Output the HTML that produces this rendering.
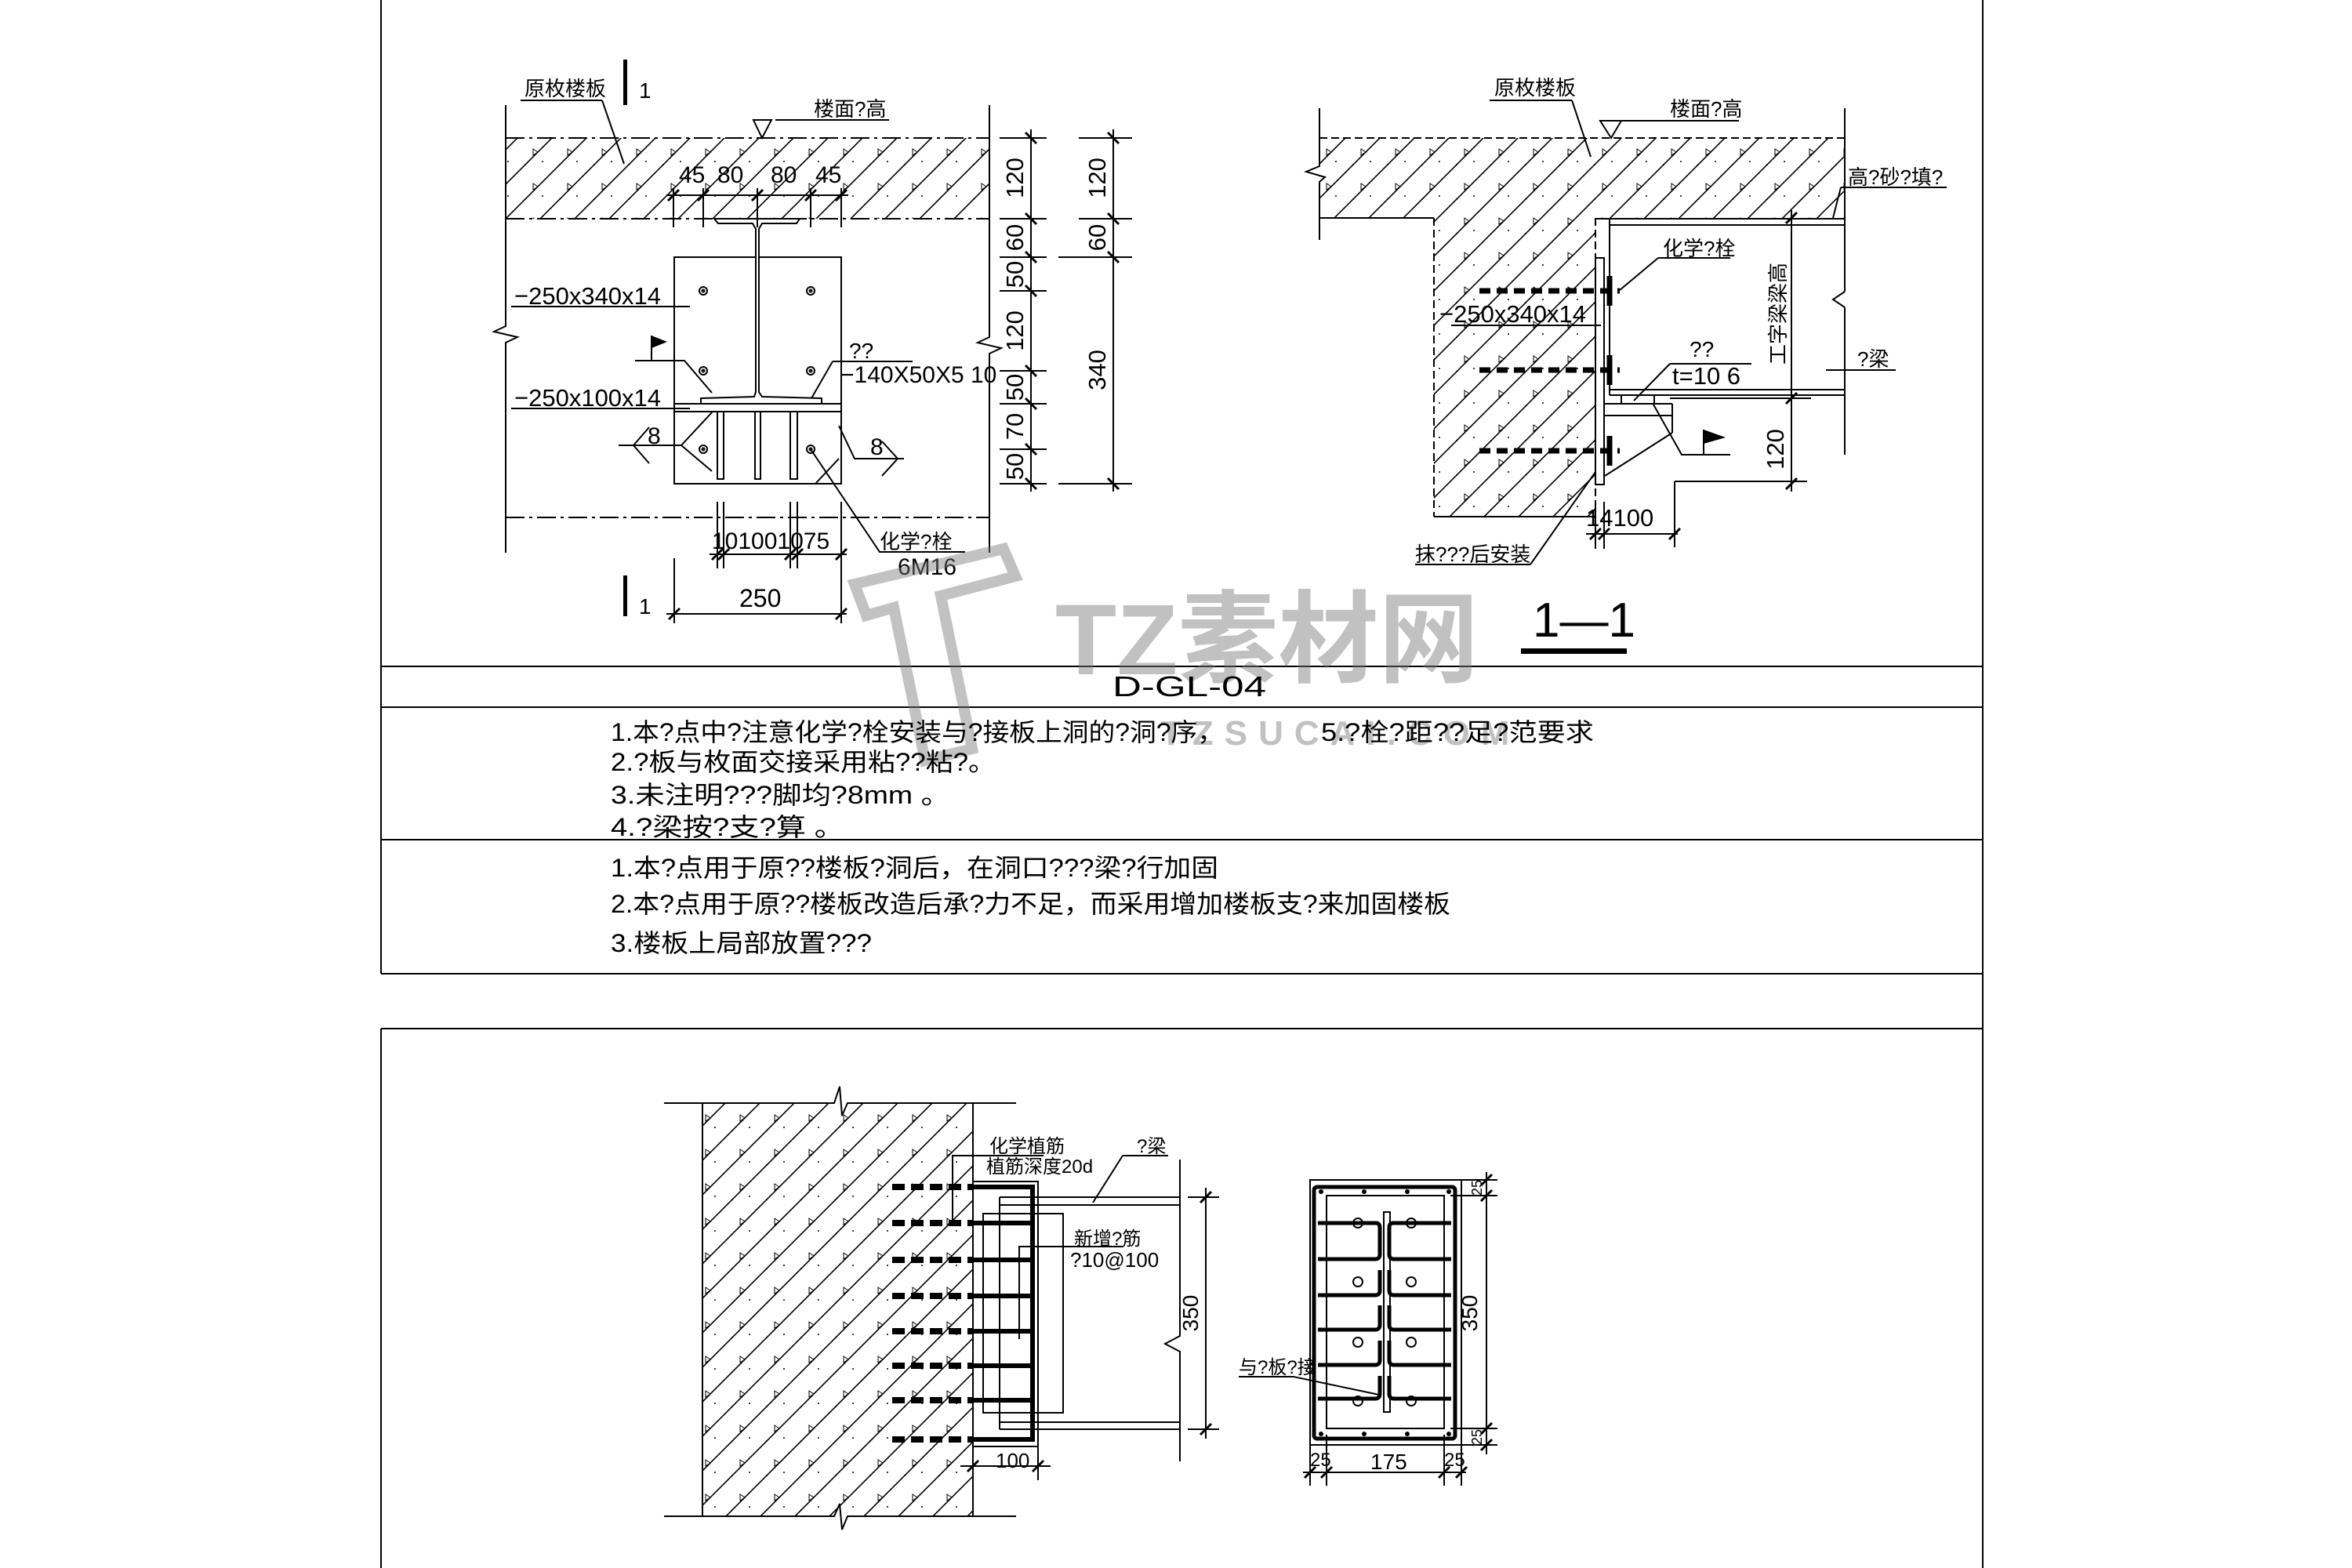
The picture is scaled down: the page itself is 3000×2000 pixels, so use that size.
<!DOCTYPE html>
<html><head><meta charset="utf-8"><style>
html,body{margin:0;padding:0;background:#fff;}
svg{display:block;}
text{font-family:"Liberation Sans","Noto Sans CJK SC",sans-serif;fill:#000;}
</style></head><body>
<svg width="3000" height="2000" viewBox="0 0 3000 2000" xmlns="http://www.w3.org/2000/svg">
<defs>
<pattern id="h" patternUnits="userSpaceOnUse" width="44" height="44">
<line x1="0" y1="44" x2="44" y2="0" stroke="#000" stroke-width="1.6"/>
<line x1="-4" y1="4" x2="4" y2="-4" stroke="#000" stroke-width="1.6"/>
<line x1="40" y1="48" x2="48" y2="40" stroke="#000" stroke-width="1.6"/>
<path d="M20 14 l6 4 l-6 4 z" fill="none" stroke="#000" stroke-width="1"/>
<circle cx="32" cy="30" r="1" fill="#000"/><circle cx="10" cy="34" r="1" fill="#000"/>
</pattern>
</defs>
<rect width="3000" height="2000" fill="#fff"/>
<g stroke="#000" stroke-width="2" fill="none">
<!-- frame -->
<line x1="486" y1="0" x2="486" y2="1242"/><line x1="2529" y1="0" x2="2529" y2="2000"/>
<line x1="486" y1="1312" x2="486" y2="2000"/>
<line x1="486" y1="850" x2="2529" y2="850"/><line x1="486" y1="902" x2="2529" y2="902"/>
<line x1="486" y1="1071" x2="2529" y2="1071"/><line x1="486" y1="1242" x2="2529" y2="1242"/>
<line x1="486" y1="1312" x2="2529" y2="1312"/>
</g>

<!-- ===== LEFT DRAWING ===== -->
<rect x="645" y="176" width="617" height="103" fill="url(#h)"/>
<g stroke="#000" stroke-width="2" fill="none">
<line x1="645" y1="176" x2="1262" y2="176" stroke-dasharray="24 6 4 6"/>
<line x1="645" y1="279" x2="1262" y2="279" stroke-dasharray="24 6 4 6"/>
<line x1="645" y1="660" x2="1262" y2="660" stroke-dasharray="24 6 4 6"/>
<polyline points="645,134 645,416 630,423 660,430 645,437 645,705"/>
<polyline points="1262,134 1262,430 1247,437 1277,444 1262,451 1262,705"/>
<!-- plate -->
<rect x="860" y="328" width="213" height="289" fill="#fff"/>
<!-- I beam -->
<path d="M911 279 L1020 279 L1016 285 L972 285 L968 292 L968 500 L972 506 L1048 508 L1048 515 L894 515 L894 508 L962 506 L964 500 L964 292 L960 285 L916 285 Z" fill="#fff"/>
<rect x="860" y="515" width="213" height="10" fill="#fff"/>
<rect x="915" y="525" width="8" height="86"/><rect x="963" y="525" width="7" height="86"/><rect x="1008" y="525" width="9" height="86"/>
<circle cx="897" cy="371" r="5"/><circle cx="1034" cy="371" r="5"/>
<circle cx="897" cy="473" r="5"/><circle cx="1034" cy="473" r="5"/>
<circle cx="897" cy="573" r="5"/><circle cx="1034" cy="573" r="5"/>
<circle cx="897" cy="371" r="1.5"/><circle cx="1034" cy="371" r="1.5"/><circle cx="897" cy="473" r="1.5"/><circle cx="1034" cy="473" r="1.5"/><circle cx="897" cy="573" r="1.5"/><circle cx="1034" cy="573" r="1.5"/>
<!-- right dims -->
<line x1="1315" y1="165" x2="1315" y2="627"/>
<line x1="1275" y1="176" x2="1335" y2="176"/><line x1="1275" y1="279" x2="1335" y2="279"/>
<line x1="1275" y1="328" x2="1335" y2="328"/><line x1="1275" y1="371" x2="1335" y2="371"/>
<line x1="1275" y1="473" x2="1335" y2="473"/><line x1="1275" y1="515" x2="1335" y2="515"/>
<line x1="1275" y1="573" x2="1335" y2="573"/><line x1="1275" y1="617" x2="1335" y2="617"/>
<line x1="1420" y1="165" x2="1420" y2="627"/>
<line x1="1376" y1="176" x2="1444" y2="176"/><line x1="1376" y1="279" x2="1444" y2="279"/>
<line x1="1350" y1="328" x2="1444" y2="328"/><line x1="1350" y1="617" x2="1444" y2="617"/>
<!-- top dim -->
<line x1="850" y1="249" x2="1082" y2="249"/>
<line x1="859" y1="240" x2="859" y2="290"/><line x1="897" y1="240" x2="897" y2="290"/><line x1="966" y1="240" x2="966" y2="290"/><line x1="1034" y1="240" x2="1034" y2="290"/><line x1="1073" y1="240" x2="1073" y2="290"/>
<!-- bottom dims -->
<line x1="905" y1="707" x2="1080" y2="707"/>
<line x1="915" y1="640" x2="915" y2="725"/><line x1="923" y1="640" x2="923" y2="725"/><line x1="1008" y1="640" x2="1008" y2="725"/><line x1="1017" y1="640" x2="1017" y2="725"/><line x1="1073" y1="640" x2="1073" y2="725"/>
<line x1="850" y1="783" x2="1080" y2="783"/>
<line x1="860" y1="712" x2="860" y2="795"/><line x1="1073" y1="725" x2="1073" y2="795"/>
<!-- leaders -->
<line x1="664" y1="128" x2="768" y2="128"/><line x1="768" y1="128" x2="796" y2="209"/>
<line x1="989" y1="153" x2="1134" y2="153"/><path d="M961 153 L984 153 L972 176 Z"/>
<line x1="652" y1="391" x2="880" y2="391"/>
<line x1="652" y1="521" x2="880" y2="521"/>
<line x1="1062" y1="461" x2="1164" y2="461"/><line x1="1062" y1="461" x2="1035" y2="508"/>
<polyline points="810,460 873,460 908,501"/><line x1="831" y1="428" x2="831" y2="460"/>
<polyline points="789,568 869,568 909,525"/><line x1="869" y1="568" x2="908" y2="601"/>
<path d="M828 545 L808 568 L828 591"/>
<polyline points="1153,585 1090,585 1070,543"/><line x1="1070" y1="585" x2="1040" y2="617"/>
<path d="M1125 563 L1145 585 L1125 607"/>
<polyline points="1231,704 1122,704 1034,573"/>
</g>
<path d="M831 428 L851 436 L831 444 Z" fill="#000"/>
<g stroke="#000" stroke-width="3">
<line x1="1308" y1="169" x2="1322" y2="183"/><line x1="1308" y1="272" x2="1322" y2="286"/><line x1="1308" y1="321" x2="1322" y2="335"/><line x1="1308" y1="364" x2="1322" y2="378"/><line x1="1308" y1="466" x2="1322" y2="480"/><line x1="1308" y1="508" x2="1322" y2="522"/><line x1="1308" y1="566" x2="1322" y2="580"/><line x1="1308" y1="610" x2="1322" y2="624"/>
<line x1="1413" y1="169" x2="1427" y2="183"/><line x1="1413" y1="272" x2="1427" y2="286"/><line x1="1413" y1="321" x2="1427" y2="335"/><line x1="1413" y1="610" x2="1427" y2="624"/>
<line x1="852" y1="256" x2="866" y2="242"/><line x1="890" y1="256" x2="904" y2="242"/><line x1="959" y1="256" x2="973" y2="242"/><line x1="1027" y1="256" x2="1041" y2="242"/><line x1="1066" y1="256" x2="1080" y2="242"/>
<line x1="908" y1="714" x2="922" y2="700"/><line x1="916" y1="714" x2="930" y2="700"/><line x1="1001" y1="714" x2="1015" y2="700"/><line x1="1010" y1="714" x2="1024" y2="700"/><line x1="1066" y1="714" x2="1080" y2="700"/>
<line x1="853" y1="790" x2="867" y2="776"/><line x1="1066" y1="790" x2="1080" y2="776"/>
</g>
<rect x="795" y="76" width="5" height="58" fill="#000"/><rect x="795" y="734" width="5" height="52" fill="#000"/>
<g font-size="28">
<text x="815" y="125">1</text><text x="815" y="783">1</text>
<text x="669" y="122" font-size="26">原枚楼板</text>
<text x="1038" y="148" font-size="26">楼面?高</text>
<text x="656" y="388" font-size="31">−250x340x14</text>
<text x="656" y="518" font-size="31">−250x100x14</text>
<text x="1083" y="457" font-size="28">??</text>
<text x="1072" y="488" font-size="30">−140X50X5 10</text>
<text x="826" y="566" font-size="30">8</text><text x="1110" y="580" font-size="30">8</text>
<text x="1122" y="700" font-size="26">化学?栓</text>
<text x="1145" y="733" font-size="30">6M16</text>
<text x="908" y="700" font-size="30">101001075</text>
<text x="943" y="774" font-size="32">250</text>
<text x="866" y="233" font-size="30">45</text><text x="915" y="233" font-size="30">80</text><text x="983" y="233" font-size="30">80</text><text x="1040" y="233" font-size="30">45</text>
</g>
<g font-size="31" text-anchor="middle">
<text transform="translate(1305,227) rotate(-90)">120</text>
<text transform="translate(1305,303) rotate(-90)">60</text>
<text transform="translate(1305,350) rotate(-90)">50</text>
<text transform="translate(1305,422) rotate(-90)">120</text>
<text transform="translate(1305,494) rotate(-90)">50</text>
<text transform="translate(1305,544) rotate(-90)">70</text>
<text transform="translate(1305,595) rotate(-90)">50</text>
<text transform="translate(1410,227) rotate(-90)">120</text>
<text transform="translate(1410,303) rotate(-90)">60</text>
<text transform="translate(1410,472) rotate(-90)">340</text>
</g>

<!-- ===== RIGHT DRAWING ===== -->
<path d="M1683 176 L2353 176 L2353 278 L2035 278 L2035 659 L1829 659 L1829 278 L1683 278 Z" fill="url(#h)"/>
<g stroke="#000" stroke-width="2" fill="none">
<line x1="1683" y1="176" x2="2353" y2="176" stroke-dasharray="10 5"/>
<polyline points="1683,278 1829,278"/><line x1="1829" y1="278" x2="1829" y2="659" stroke-dasharray="10 5"/>
<line x1="1829" y1="659" x2="2035" y2="659"/><line x1="2035" y1="278" x2="2035" y2="659" stroke-dasharray="10 5"/>
<polyline points="1683,138 1683,212 1666,219 1690,226 1683,232 1683,306"/>
<line x1="2353" y1="138" x2="2353" y2="372"/><polyline points="2353,372 2338,382 2353,392"/><line x1="2353" y1="392" x2="2353" y2="580"/>
<!-- beam -->
<line x1="2035" y1="279" x2="2353" y2="279"/><line x1="2053" y1="287" x2="2353" y2="287"/>
<line x1="2053" y1="497" x2="2353" y2="497"/><line x1="2053" y1="504" x2="2353" y2="504"/>
<line x1="2053" y1="279" x2="2053" y2="504"/>
<rect x="2035" y="329" width="11" height="289" fill="#fff"/>
<!-- seat -->
<line x1="2046" y1="515" x2="2133" y2="515"/><line x1="2046" y1="530" x2="2133" y2="530"/>
<line x1="2133" y1="515" x2="2133" y2="552"/><line x1="2133" y1="552" x2="2047" y2="607"/>
<line x1="2068" y1="504" x2="2068" y2="515"/><line x1="2110" y1="504" x2="2110" y2="515"/>
<line x1="2130" y1="508" x2="2310" y2="508"/>
<line x1="2136" y1="614" x2="2305" y2="614"/><line x1="2136" y1="614" x2="2136" y2="698"/>
<polyline points="2109,516 2145,580 2207,580"/><line x1="2173" y1="548" x2="2173" y2="580"/>
<line x1="2285" y1="268" x2="2285" y2="627"/>
<!-- dim 14100 -->
<line x1="2023" y1="681" x2="2140" y2="681"/><line x1="2035" y1="640" x2="2035" y2="700"/><line x1="2046" y1="640" x2="2046" y2="700"/>
<!-- leaders -->
<line x1="1900" y1="128" x2="2005" y2="128"/><line x1="2005" y1="128" x2="2029" y2="200"/>
<line x1="2041" y1="154" x2="2218" y2="154"/><path d="M2041 154 L2068 154 L2055 176 Z"/>
<line x1="2348" y1="239" x2="2483" y2="239"/><line x1="2348" y1="239" x2="2338" y2="278"/>
<line x1="2115" y1="329" x2="2207" y2="329"/><line x1="2115" y1="329" x2="2066" y2="370"/>
<line x1="1851" y1="415" x2="2042" y2="415"/>
<line x1="2130" y1="464" x2="2234" y2="464"/><line x1="2130" y1="464" x2="2084" y2="511"/>
<line x1="2329" y1="472" x2="2418" y2="472"/>
<line x1="1805" y1="720" x2="1952" y2="720"/><line x1="1952" y1="720" x2="2035" y2="602"/>
</g>
<path d="M2173 548 L2201 558 L2173 566 Z" fill="#000"/>
<g stroke="#000" stroke-width="7" stroke-dasharray="14 8">
<line x1="1887" y1="371" x2="2066" y2="371"/><line x1="1887" y1="472" x2="2066" y2="472"/><line x1="1887" y1="575" x2="2066" y2="575"/>
</g>
<g stroke="#000" stroke-width="7">
<line x1="2053" y1="352" x2="2053" y2="390"/><line x1="2053" y1="453" x2="2053" y2="491"/><line x1="2053" y1="556" x2="2053" y2="594"/>
</g>
<g stroke="#000" stroke-width="3">
<line x1="2278" y1="285" x2="2292" y2="271"/><line x1="2278" y1="515" x2="2292" y2="501"/><line x1="2278" y1="624" x2="2292" y2="610"/>
<line x1="2028" y1="688" x2="2042" y2="674"/><line x1="2039" y1="688" x2="2053" y2="674"/><line x1="2129" y1="688" x2="2143" y2="674"/>
</g>
<g font-size="26">
<text x="1906" y="121">原枚楼板</text>
<text x="2130" y="148">楼面?高</text>
<text x="2357" y="235">高?砂?填?</text>
<text x="2121" y="326">化学?栓</text>
<text x="1836" y="411" font-size="31">−250x340x14</text>
<text x="2155" y="455" font-size="28">??</text>
<text x="2133" y="490" font-size="31">t=10 6</text>
<text x="2369" y="467">?梁</text>
<text x="1805" y="716">抹???后安装</text>
<text x="2023" y="671" font-size="31">14100</text>
<text transform="translate(2275,573) rotate(-90)" font-size="31" text-anchor="middle">120</text>
<text transform="translate(2277,400) rotate(-90)" font-size="26" text-anchor="middle">工字梁梁高</text>
<text x="1955" y="812" font-size="62">1—1</text>
</g>
<rect x="1940" y="827" width="135" height="7" fill="#000"/>

<!-- watermark -->
<g opacity="0.45">
<path d="M1090 745 L1280 700 L1295 735 L1200 760 L1240 955 L1180 970 L1140 775 L1105 785 Z" fill="none" stroke="#777" stroke-width="14"/>
<text x="1346" y="860" font-size="128" font-weight="bold" fill="#777" style="fill:#777">TZ素材网</text>
<text x="1480" y="950" font-size="44" font-weight="bold" fill="#777" style="fill:#777" letter-spacing="14">TZSUCAI.COM</text>
</g>

<!-- ===== TEXT TABLE ===== -->
<g font-size="32">
<text x="1419" y="888" font-size="36" textLength="196" lengthAdjust="spacingAndGlyphs">D-GL-04</text>
<text x="779" y="945" textLength="782" lengthAdjust="spacingAndGlyphs">1.本?点中?注意化学?栓安装与?接板上洞的?洞?序，</text>
<text x="1685" y="945" textLength="348" lengthAdjust="spacingAndGlyphs">5.?栓?距??足?范要求</text>
<text x="779" y="983" textLength="491" lengthAdjust="spacingAndGlyphs">2.?板与枚面交接采用粘??粘?。</text>
<text x="779" y="1025" textLength="433" lengthAdjust="spacingAndGlyphs">3.未注明???脚均?8mm 。</text>
<text x="779" y="1066" textLength="298" lengthAdjust="spacingAndGlyphs">4.?梁按?支?算 。</text>
<text x="779" y="1118" textLength="775" lengthAdjust="spacingAndGlyphs">1.本?点用于原??楼板?洞后，在洞口???梁?行加固</text>
<text x="779" y="1164" textLength="1071" lengthAdjust="spacingAndGlyphs">2.本?点用于原??楼板改造后承?力不足，而采用增加楼板支?来加固楼板</text>
<text x="779" y="1214" textLength="333" lengthAdjust="spacingAndGlyphs">3.楼板上局部放置???</text>
</g>

<!-- ===== BOTTOM LEFT ===== -->
<rect x="896" y="1407" width="345" height="527" fill="url(#h)"/>
<g stroke="#000" stroke-width="2" fill="none">
<polyline points="847,1407 1064,1407 1071,1386 1074,1423 1081,1407 1296,1407"/>
<polyline points="847,1934 1064,1934 1071,1918 1074,1951 1081,1934 1296,1934"/>
<line x1="896" y1="1407" x2="896" y2="1934"/><line x1="1241" y1="1407" x2="1241" y2="1934"/>
<rect x="1241" y="1507" width="83" height="338"/>
<rect x="1254" y="1548" width="102" height="254"/>
<line x1="1275" y1="1527" x2="1275" y2="1823"/>
<polyline points="1275,1527 1505,1527"/><polyline points="1275,1537 1505,1537"/>
<polyline points="1275,1814 1505,1814"/><polyline points="1275,1823 1505,1823"/>
<polyline points="1505,1479 1505,1704 1486,1714 1505,1724 1505,1864"/>
<polyline points="1300,1708 1300,1590 1433,1590"/>
<polyline points="1215,1560 1215,1474 1331,1474"/>
<line x1="1394" y1="1534" x2="1432" y2="1474"/><line x1="1432" y1="1474" x2="1490" y2="1474"/>
<line x1="1538" y1="1515" x2="1538" y2="1835"/><line x1="1515" y1="1527" x2="1555" y2="1527"/><line x1="1515" y1="1823" x2="1555" y2="1823"/>
<line x1="1225" y1="1870" x2="1340" y2="1870"/><line x1="1324" y1="1845" x2="1324" y2="1888"/>
</g>
<g stroke="#000" stroke-width="6">
<polyline points="1241,1514 1317,1514 1317,1836 1241,1836" fill="none"/>
<line x1="1241" y1="1560" x2="1317" y2="1560"/><line x1="1241" y1="1607" x2="1317" y2="1607"/><line x1="1241" y1="1653" x2="1317" y2="1653"/><line x1="1241" y1="1698" x2="1317" y2="1698"/><line x1="1241" y1="1742" x2="1317" y2="1742"/><line x1="1241" y1="1786" x2="1317" y2="1786"/>
</g>
<g stroke="#000" stroke-width="8" stroke-dasharray="16 8">
<line x1="1138" y1="1514" x2="1241" y2="1514"/><line x1="1138" y1="1560" x2="1241" y2="1560"/><line x1="1138" y1="1607" x2="1241" y2="1607"/><line x1="1138" y1="1653" x2="1241" y2="1653"/><line x1="1138" y1="1698" x2="1241" y2="1698"/><line x1="1138" y1="1742" x2="1241" y2="1742"/><line x1="1138" y1="1786" x2="1241" y2="1786"/><line x1="1138" y1="1836" x2="1241" y2="1836"/>
</g>
<g stroke="#000" stroke-width="3">
<line x1="1531" y1="1534" x2="1545" y2="1520"/><line x1="1531" y1="1830" x2="1545" y2="1816"/>
<line x1="1234" y1="1877" x2="1248" y2="1863"/><line x1="1317" y1="1877" x2="1331" y2="1863"/>
</g>
<g font-size="24">
<text x="1262" y="1470">化学植筋</text>
<text x="1258" y="1496">植筋深度20d</text>
<text x="1450" y="1470">?梁</text>
<text x="1370" y="1588">新增?筋</text>
<text x="1365" y="1616" font-size="26">?10@100</text>
<text x="1270" y="1872" font-size="26">100</text>
<text transform="translate(1528,1675) rotate(-90)" font-size="28" text-anchor="middle">350</text>
</g>

<!-- ===== BOTTOM RIGHT SECTION ===== -->
<g stroke="#000" stroke-width="2" fill="none">
<rect x="1671" y="1505" width="193" height="338"/>
<rect x="1692" y="1525" width="150" height="297"/>
<rect x="1765" y="1546" width="8" height="255"/>
<line x1="1896" y1="1495" x2="1896" y2="1855"/><line x1="1850" y1="1505" x2="1910" y2="1505"/><line x1="1850" y1="1525" x2="1910" y2="1525"/><line x1="1850" y1="1822" x2="1910" y2="1822"/><line x1="1850" y1="1843" x2="1910" y2="1843"/>
<line x1="1662" y1="1878" x2="1870" y2="1878"/><line x1="1671" y1="1843" x2="1671" y2="1895"/><line x1="1692" y1="1830" x2="1692" y2="1895"/><line x1="1842" y1="1830" x2="1842" y2="1895"/><line x1="1864" y1="1843" x2="1864" y2="1895"/>
<line x1="1580" y1="1756" x2="1650" y2="1756"/><line x1="1650" y1="1756" x2="1759" y2="1779"/>
<circle cx="1732" cy="1560" r="6"/><circle cx="1800" cy="1560" r="6"/><circle cx="1732" cy="1635" r="6"/><circle cx="1800" cy="1635" r="6"/><circle cx="1732" cy="1712" r="6"/><circle cx="1800" cy="1712" r="6"/><circle cx="1732" cy="1787" r="6"/><circle cx="1800" cy="1787" r="6"/>
</g>
<g stroke="#000" stroke-width="5" fill="none">
<rect x="1676" y="1514" width="180" height="321" rx="4"/>
<path d="M1681 1560 H1755 Q1760 1560 1760 1566 V1600 Q1760 1606 1754 1606 H1681"/>
<path d="M1851 1560 H1777 Q1772 1560 1772 1566 V1600 Q1772 1606 1778 1606 H1851"/>
<path d="M1681 1652 H1754 Q1760 1652 1760 1646 V1620"/>
<path d="M1851 1652 H1778 Q1772 1652 1772 1646 V1620"/>
<path d="M1681 1696 H1754 Q1760 1696 1760 1690 V1665"/>
<path d="M1851 1696 H1778 Q1772 1696 1772 1690 V1665"/>
<path d="M1681 1741 H1754 Q1760 1741 1760 1735 V1710"/>
<path d="M1851 1741 H1778 Q1772 1741 1772 1735 V1710"/>
<path d="M1681 1784 H1754 Q1760 1784 1760 1778 V1755"/>
<path d="M1851 1784 H1778 Q1772 1784 1772 1778 V1755"/>
</g>
<g fill="#000"><circle cx="1685" cy="1520" r="3"/><circle cx="1740" cy="1520" r="3"/><circle cx="1795" cy="1520" r="3"/><circle cx="1848" cy="1520" r="3"/><circle cx="1685" cy="1829" r="3"/><circle cx="1740" cy="1829" r="3"/><circle cx="1795" cy="1829" r="3"/><circle cx="1848" cy="1829" r="3"/></g>
<g stroke="#000" stroke-width="3">
<line x1="1889" y1="1512" x2="1903" y2="1498"/><line x1="1889" y1="1532" x2="1903" y2="1518"/><line x1="1889" y1="1829" x2="1903" y2="1815"/><line x1="1889" y1="1850" x2="1903" y2="1836"/>
<line x1="1664" y1="1885" x2="1678" y2="1871"/><line x1="1685" y1="1885" x2="1699" y2="1871"/><line x1="1835" y1="1885" x2="1849" y2="1871"/><line x1="1857" y1="1885" x2="1871" y2="1871"/>
</g>
<g font-size="24">
<text x="1580" y="1752">与?板?接</text>
<text x="1748" y="1874" font-size="28">175</text>
<text x="1671" y="1870">25</text><text x="1842" y="1870">25</text>
<text transform="translate(1884,1675) rotate(-90)" font-size="28" text-anchor="middle">350</text>
<text transform="translate(1890,1515) rotate(-90)" font-size="18" text-anchor="middle">25</text>
<text transform="translate(1890,1833) rotate(-90)" font-size="18" text-anchor="middle">25</text>
</g>
</svg>
</body></html>
